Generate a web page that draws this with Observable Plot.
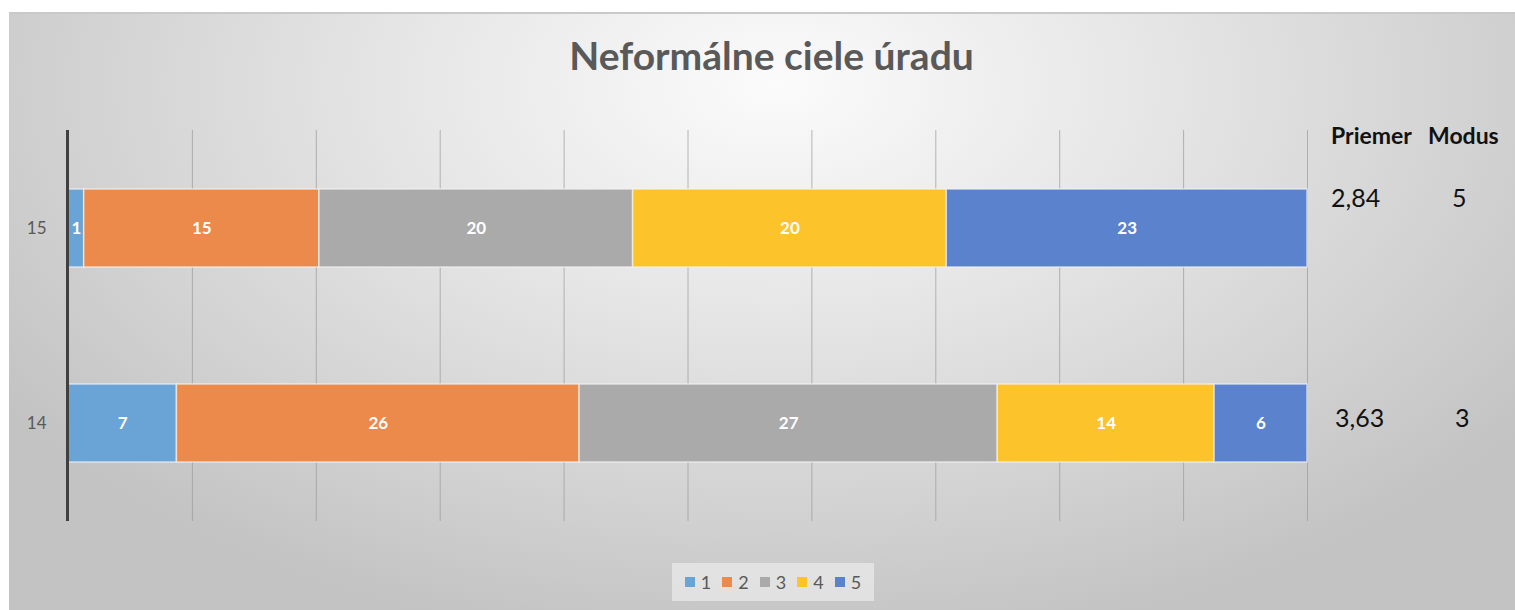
<!DOCTYPE html>
<html>
<head>
<meta charset="utf-8">
<script src="https://cdn.jsdelivr.net/npm/d3@7"></script>
<script src="https://cdn.jsdelivr.net/npm/@observablehq/plot@0.6"></script>
<style>
  html, body { margin: 0; padding: 0; background: #ffffff; }
  body { width: 1515px; height: 610px; position: relative; overflow: hidden; font-family: "Lato", "Open Sans", sans-serif; }
  #frame {
    position: absolute; left: 9px; top: 12px; width: 1506px; height: 598px;
    border-top: 2px solid #c9c9c9; box-sizing: border-box;
    background: radial-gradient(ellipse 62% 95% at 51% 12%, #fbfbfb 0%, #e6e6e6 40%, #d2d2d2 75%, #c3c3c3 100%);
  }
  #title {
    position: absolute; left: 14px; width: 1515px; top: 32px; text-align: center;
    font-family: "Lato", sans-serif; font-weight: 700; font-size: 39px; color: #595959;
  }
  #chart { position: absolute; left: 0; top: 0; }
  .stat { position: absolute; color: #111; font-family: "Lato", "Open Sans", sans-serif; }
  .head { font-weight: 700; font-size: 23px; top: 121px; }
  .val { font-size: 25px; }
  #legend {
    position: absolute; top: 563px; left: 672px; width: 202px; height: 38px;
    background: rgba(235,235,235,0.7); display: flex; align-items: center; justify-content: center; gap: 11px;
    font-family: "Lato", sans-serif; font-size: 18px; color: #595959;
  }
  #legend .item { display: flex; align-items: center; gap: 6px; }
  #legend .sw { width: 10px; height: 10px; display: inline-block; }
</style>
</head>
<body>
<div id="frame"></div>
<div id="title">Neformálne ciele úradu</div>
<div id="chart"></div>
<div id="stats"></div>
<div id="legend"></div>
<script>
// ---- data ----
const rows = ["15", "14"];
const categories = ["1", "2", "3", "4", "5"];
const values15 = [1, 15, 20, 20, 23];
const values14 = [7, 26, 27, 14, 6];
const colors = ["#6aa3d6", "#ec8a4b", "#aaaaaa", "#fcc42a", "#5b82cc"];
const statHeaders = ["Priemer", "Modus"];
const priemer = ["2,84", "3,63"];
const modus = ["5", "3"];

const seriesByRow = {"15": values15, "14": values14};
const table = rows.flatMap(r => categories.map((c, i) => ({row: r, cat: c, value: seriesByRow[r][i]})));

const chart = Plot.plot({
  width: 1515,
  height: 610,
  marginLeft: 68,
  marginRight: 208,
  marginTop: 130,
  marginBottom: 89,
  style: {background: "transparent", fontFamily: "Lato, 'Open Sans', sans-serif", overflow: "visible"},
  x: {domain: [0, 1], ticks: 10, axis: null},
  y: {domain: rows, paddingInner: 0.602, paddingOuter: 0.2985, label: null, axis: null},
  color: {domain: categories, range: colors},
  marks: [
    Plot.gridX({ticks: 10, stroke: "#9a9a9a", strokeOpacity: 0.7, strokeWidth: 1}),
    Plot.barX(table, Plot.stackX({x: "value", y: "row", fill: "cat", offset: "normalize",
      stroke: "#f4f4f4", strokeOpacity: 0.7, strokeWidth: 1.5})),
    Plot.text(table, Plot.stackX({x: "value", y: "row", z: "cat", text: d => String(d.value), offset: "normalize",
      fill: "white", fontWeight: "bold", fontSize: 17, fontFamily: "Lato, sans-serif"})),
    Plot.ruleX([0], {stroke: "#404040", strokeWidth: 3, dx: -1}),
    Plot.axisY({tickSize: 0, tickPadding: 22, fontSize: 17, color: "#595959", fontFamily: "Lato, sans-serif"})
  ]
});
document.getElementById("chart").appendChild(chart);

// ---- side statistics (annotations) ----
const stats = document.getElementById("stats");
const headPos = [1331, 1428];
statHeaders.forEach((h, i) => {
  const el = document.createElement("div");
  el.className = "stat head"; el.textContent = h; el.style.left = headPos[i] + "px";
  stats.appendChild(el);
});
const rowTops = [182, 402];
const priemerLeft = [1331, 1335];
const modusLeft = [1452, 1455];
rows.forEach((r, i) => {
  const p = document.createElement("div");
  p.className = "stat val"; p.textContent = priemer[i];
  p.style.left = priemerLeft[i] + "px"; p.style.top = rowTops[i] + "px";
  stats.appendChild(p);
  const m = document.createElement("div");
  m.className = "stat val"; m.textContent = modus[i];
  m.style.left = modusLeft[i] + "px"; m.style.top = rowTops[i] + "px";
  stats.appendChild(m);
});

// ---- legend ----
const legend = document.getElementById("legend");
categories.forEach((c, i) => {
  const item = document.createElement("span");
  item.className = "item";
  const sw = document.createElement("span");
  sw.className = "sw"; sw.style.background = colors[i];
  const lab = document.createElement("span");
  lab.textContent = c;
  item.appendChild(sw); item.appendChild(lab);
  legend.appendChild(item);
});
</script>
</body>
</html>
